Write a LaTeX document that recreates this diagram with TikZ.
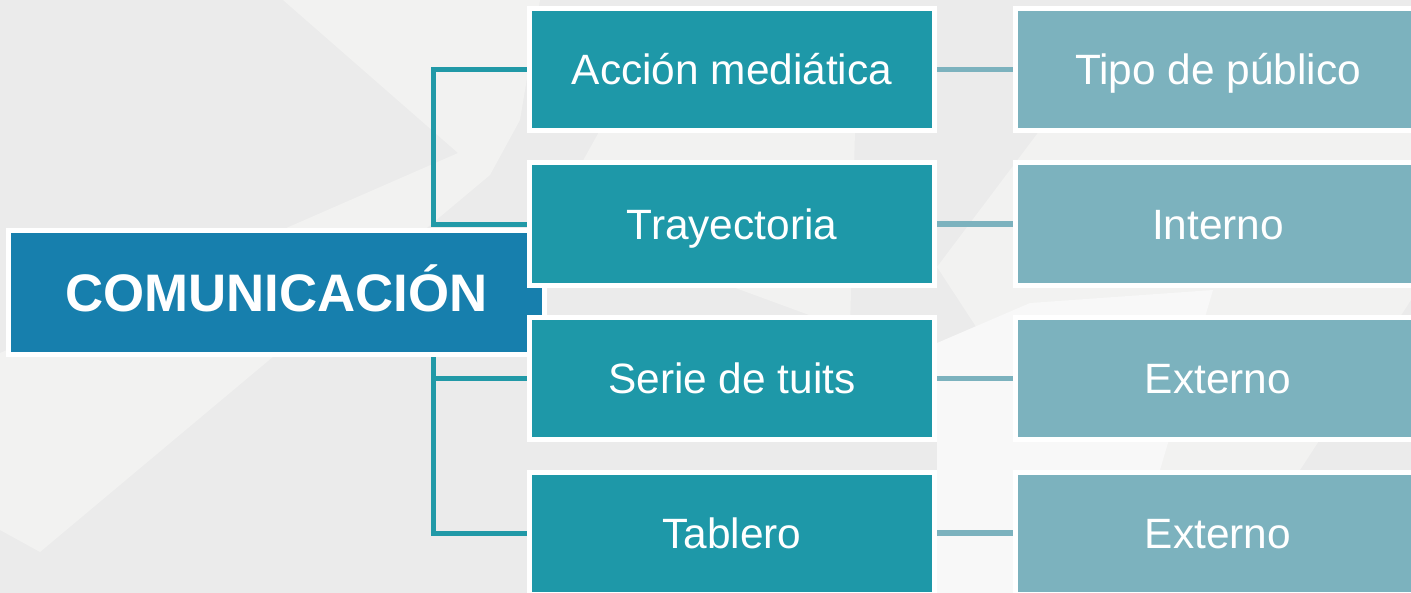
\documentclass[tikz,border=0pt]{standalone}
\usepackage{fontspec}
\setmainfont{Liberation Sans}
\pgfdeclarelayer{deco}
\pgfdeclarelayer{conn}
\pgfsetlayers{deco,conn,main}
\definecolor{bgA}{HTML}{EBEBEB}
\definecolor{bgB}{HTML}{F2F2F1}
\definecolor{bgC}{HTML}{F8F8F8}
\definecolor{cenblue}{HTML}{177FAD}
\definecolor{tealA}{HTML}{1E98A8}
\definecolor{tealB}{HTML}{7CB2BE}
\definecolor{brkcol}{HTML}{2199A7}
\tikzset{
  cenbox/.style={draw=white, line width=2.5pt, fill=cenblue, text=white,
    minimum width=268pt, minimum height=62pt, inner sep=0pt,
    font=\fontsize{26.4}{30}\selectfont\bfseries, text height=18.9pt, text depth=0pt},
  midbox/.style={draw=white, line width=2.5pt, fill=tealA, text=white,
    minimum width=202.5pt, minimum height=61pt, inner sep=0pt,
    font=\fontsize{21.2}{25}\selectfont, text height=15.2pt, text depth=0pt},
  rightbox/.style={midbox, fill=tealB},
  brk/.style={draw=brkcol, line width=2.5pt},
  lnk/.style={draw=tealB, line width=2.75pt}
}
\begin{document}
\begin{tikzpicture}[x=0.5pt, y=-0.5pt]
\useasboundingbox (0,0) rectangle (1411,593);
\begin{pgfonlayer}{deco}
  \fill[bgA] (0,0) rectangle (1411,593);
  \fill[bgB] (283,0) -- (458,153) -- (0,353) -- (0,530) -- (40,552) -- (490,175)
     -- (520,120) -- (540,0) -- cycle;
  \fill[bgB] (600,130) -- (855,130) -- (850,330) -- (700,275) -- (575,175) -- cycle;
  \fill[bgB] (937,267) -- (1040,130) -- (1411,130) -- (1411,300) -- (1300,470)
     -- (1290,593) -- (1150,593) -- cycle;
  \fill[bgC] (937,343) -- (1030,303) -- (1213,290) -- (1160,470) -- (1150,593)
     -- (937,593) -- cycle;
\end{pgfonlayer}

\node[cenbox] (cen) at (276.5,292.5) {COMUNICACIÓN};

\node[midbox] (acc) at (732,69.5) {Acción mediática};
\node[midbox] (tra) at (732,224) {Trayectoria};
\node[midbox] (ser) at (732,378.5) {Serie de tuits};
\node[midbox] (tab) at (732,533) {Tablero};

\node[rightbox] (tip) at (1218,69.5) {Tipo de público};
\node[rightbox] (int) at (1218,224) {Interno};
\node[rightbox] (ext1) at (1218,378.5) {Externo};
\node[rightbox] (ext2) at (1218,533) {Externo};

\coordinate (sp) at (433,0);
\begin{pgfonlayer}{conn}
  \draw[brk] (acc.west) -- (acc.west -| sp) |- (tra.west);
  \draw[brk] (cen.south -| sp) |- (tab.west);
  \draw[brk] (ser.west) -- (ser.west -| sp);
  \draw[lnk] (acc.east) -- (tip.west);
  \draw[lnk] (tra.east) -- (int.west);
  \draw[lnk] (ser.east) -- (ext1.west);
  \draw[lnk] (tab.east) -- (ext2.west);
\end{pgfonlayer}
\end{tikzpicture}
\end{document}
